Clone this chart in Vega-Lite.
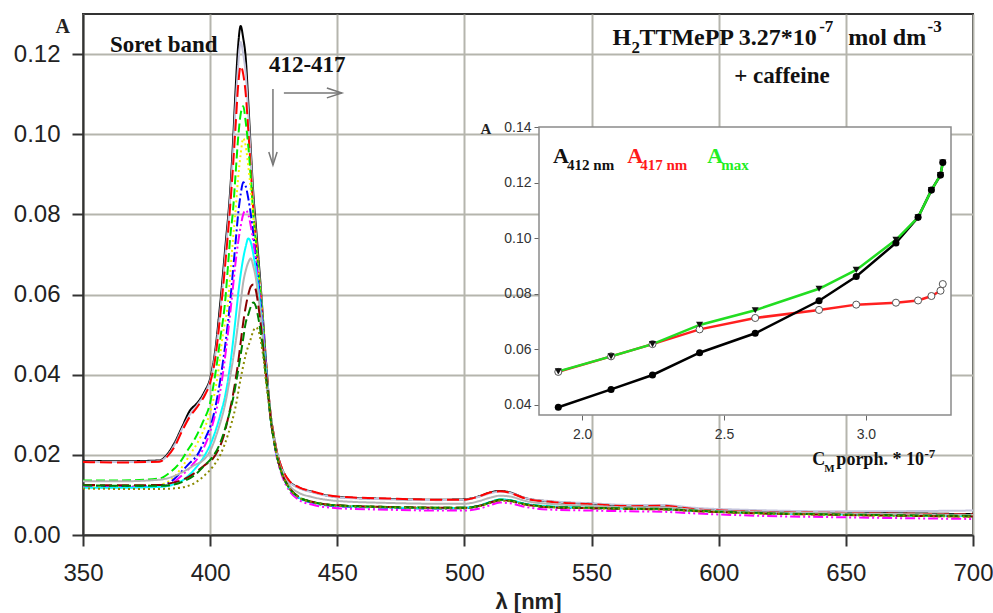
{
"$schema": "https://vega.github.io/schema/vega-lite/v6.json",
"width": 890, "height": 521,
"autosize": {"type": "none"},
"padding": {"left": 83, "top": 14, "right": 20, "bottom": 78},
"background": "white",
"config": {"view": {"stroke": "#333333", "strokeWidth": 2}, "font": "Liberation Sans"},
"datasets": {
"spectra": [
{"s":1,"x":350,"y":0.0185},{"s":1,"x":365,"y":0.0184},{"s":1,"x":380,"y":0.0186},{"s":1,"x":383,"y":0.020},{"s":1,"x":386,"y":0.023},{"s":1,"x":389,"y":0.027},{"s":1,"x":392,"y":0.031},{"s":1,"x":395,"y":0.033},{"s":1,"x":398,"y":0.036},{"s":1,"x":400,"y":0.039},{"s":1,"x":402,"y":0.046},{"s":1,"x":404,"y":0.058},{"s":1,"x":406,"y":0.072},{"s":1,"x":408,"y":0.087},{"s":1,"x":409,"y":0.098},{"s":1,"x":410,"y":0.111},{"s":1,"x":411,"y":0.122},{"s":1,"x":412,"y":0.127},{"s":1,"x":413,"y":0.124},{"s":1,"x":414,"y":0.119},{"s":1,"x":415,"y":0.108},{"s":1,"x":416,"y":0.096},{"s":1,"x":417,"y":0.085},{"s":1,"x":418,"y":0.077},{"s":1,"x":419,"y":0.069},{"s":1,"x":420,"y":0.061},{"s":1,"x":421,"y":0.052},{"s":1,"x":422,"y":0.043},{"s":1,"x":423,"y":0.035},{"s":1,"x":424,"y":0.029},{"s":1,"x":425,"y":0.025},{"s":1,"x":426,"y":0.0215},{"s":1,"x":428,"y":0.017},{"s":1,"x":431,"y":0.0135},{"s":1,"x":435,"y":0.0118},{"s":1,"x":440,"y":0.0108},{"s":1,"x":450,"y":0.0095},{"s":1,"x":470,"y":0.009},{"s":1,"x":490,"y":0.0088},{"s":1,"x":500,"y":0.0089},{"s":1,"x":506,"y":0.0097},{"s":1,"x":510,"y":0.0106},{"s":1,"x":514,"y":0.011},{"s":1,"x":518,"y":0.0106},{"s":1,"x":524,"y":0.0092},{"s":1,"x":535,"y":0.0083},{"s":1,"x":550,"y":0.0078},{"s":1,"x":565,"y":0.0073},{"s":1,"x":578,"y":0.0073},{"s":1,"x":590,"y":0.0066},{"s":1,"x":610,"y":0.006},{"s":1,"x":650,"y":0.0056},{"s":1,"x":700,"y":0.0052},
{"s":2,"x":350,"y":0.0183},{"s":2,"x":365,"y":0.0182},{"s":2,"x":380,"y":0.0184},{"s":2,"x":383,"y":0.0197},{"s":2,"x":386,"y":0.0225},{"s":2,"x":389,"y":0.0265},{"s":2,"x":392,"y":0.030},{"s":2,"x":395,"y":0.0325},{"s":2,"x":398,"y":0.0355},{"s":2,"x":400,"y":0.0385},{"s":2,"x":402,"y":0.045},{"s":2,"x":404,"y":0.056},{"s":2,"x":406,"y":0.070},{"s":2,"x":408,"y":0.085},{"s":2,"x":409,"y":0.095},{"s":2,"x":410,"y":0.107},{"s":2,"x":411,"y":0.117},{"s":2,"x":412,"y":0.123},{"s":2,"x":413,"y":0.120},{"s":2,"x":414,"y":0.115},{"s":2,"x":415,"y":0.105},{"s":2,"x":416,"y":0.094},{"s":2,"x":417,"y":0.083},{"s":2,"x":418,"y":0.075},{"s":2,"x":419,"y":0.067},{"s":2,"x":420,"y":0.060},{"s":2,"x":421,"y":0.051},{"s":2,"x":422,"y":0.043},{"s":2,"x":423,"y":0.035},{"s":2,"x":424,"y":0.029},{"s":2,"x":425,"y":0.025},{"s":2,"x":426,"y":0.0215},{"s":2,"x":428,"y":0.017},{"s":2,"x":431,"y":0.0134},{"s":2,"x":435,"y":0.0117},{"s":2,"x":440,"y":0.0107},{"s":2,"x":450,"y":0.0094},{"s":2,"x":470,"y":0.0089},{"s":2,"x":490,"y":0.0087},{"s":2,"x":500,"y":0.0088},{"s":2,"x":506,"y":0.0096},{"s":2,"x":510,"y":0.0104},{"s":2,"x":514,"y":0.0108},{"s":2,"x":518,"y":0.0105},{"s":2,"x":524,"y":0.0092},{"s":2,"x":535,"y":0.0084},{"s":2,"x":550,"y":0.0079},{"s":2,"x":565,"y":0.0075},{"s":2,"x":578,"y":0.0075},{"s":2,"x":590,"y":0.0068},{"s":2,"x":610,"y":0.0063},{"s":2,"x":650,"y":0.0059},{"s":2,"x":700,"y":0.0061},
{"s":3,"x":350,"y":0.0182},{"s":3,"x":365,"y":0.0181},{"s":3,"x":380,"y":0.0183},{"s":3,"x":383,"y":0.0195},{"s":3,"x":386,"y":0.022},{"s":3,"x":389,"y":0.026},{"s":3,"x":392,"y":0.0295},{"s":3,"x":395,"y":0.032},{"s":3,"x":398,"y":0.035},{"s":3,"x":400,"y":0.038},{"s":3,"x":402,"y":0.044},{"s":3,"x":404,"y":0.055},{"s":3,"x":406,"y":0.068},{"s":3,"x":408,"y":0.083},{"s":3,"x":409,"y":0.092},{"s":3,"x":410,"y":0.102},{"s":3,"x":411,"y":0.112},{"s":3,"x":412,"y":0.117},{"s":3,"x":413,"y":0.115},{"s":3,"x":414,"y":0.110},{"s":3,"x":415,"y":0.101},{"s":3,"x":416,"y":0.091},{"s":3,"x":417,"y":0.081},{"s":3,"x":418,"y":0.074},{"s":3,"x":419,"y":0.066},{"s":3,"x":420,"y":0.059},{"s":3,"x":421,"y":0.051},{"s":3,"x":422,"y":0.043},{"s":3,"x":423,"y":0.035},{"s":3,"x":424,"y":0.029},{"s":3,"x":425,"y":0.025},{"s":3,"x":426,"y":0.0215},{"s":3,"x":428,"y":0.017},{"s":3,"x":431,"y":0.0136},{"s":3,"x":435,"y":0.0119},{"s":3,"x":440,"y":0.0109},{"s":3,"x":450,"y":0.0096},{"s":3,"x":470,"y":0.0091},{"s":3,"x":490,"y":0.0088},{"s":3,"x":500,"y":0.0088},{"s":3,"x":506,"y":0.0097},{"s":3,"x":510,"y":0.0106},{"s":3,"x":514,"y":0.0109},{"s":3,"x":518,"y":0.0105},{"s":3,"x":524,"y":0.0091},{"s":3,"x":535,"y":0.0082},{"s":3,"x":550,"y":0.0077},{"s":3,"x":565,"y":0.0072},{"s":3,"x":578,"y":0.0073},{"s":3,"x":590,"y":0.0065},{"s":3,"x":610,"y":0.0059},{"s":3,"x":650,"y":0.0055},{"s":3,"x":700,"y":0.0051},
{"s":4,"x":350,"y":0.0136},{"s":4,"x":365,"y":0.0136},{"s":4,"x":380,"y":0.0141},{"s":4,"x":384,"y":0.0155},{"s":4,"x":388,"y":0.018},{"s":4,"x":391,"y":0.021},{"s":4,"x":394,"y":0.024},{"s":4,"x":397,"y":0.028},{"s":4,"x":400,"y":0.033},{"s":4,"x":402,"y":0.040},{"s":4,"x":404,"y":0.049},{"s":4,"x":406,"y":0.059},{"s":4,"x":407,"y":0.067},{"s":4,"x":408,"y":0.075},{"s":4,"x":409,"y":0.081},{"s":4,"x":410,"y":0.090},{"s":4,"x":411,"y":0.099},{"s":4,"x":412,"y":0.105},{"s":4,"x":413,"y":0.107},{"s":4,"x":414,"y":0.103},{"s":4,"x":415,"y":0.097},{"s":4,"x":416,"y":0.089},{"s":4,"x":417,"y":0.080},{"s":4,"x":418,"y":0.073},{"s":4,"x":419,"y":0.066},{"s":4,"x":420,"y":0.059},{"s":4,"x":421,"y":0.051},{"s":4,"x":422,"y":0.042},{"s":4,"x":423,"y":0.034},{"s":4,"x":424,"y":0.028},{"s":4,"x":425,"y":0.024},{"s":4,"x":426,"y":0.0205},{"s":4,"x":428,"y":0.0158},{"s":4,"x":431,"y":0.0119},{"s":4,"x":435,"y":0.0094},{"s":4,"x":440,"y":0.0083},{"s":4,"x":450,"y":0.0074},{"s":4,"x":470,"y":0.007},{"s":4,"x":490,"y":0.0068},{"s":4,"x":500,"y":0.0068},{"s":4,"x":506,"y":0.0073},{"s":4,"x":510,"y":0.0081},{"s":4,"x":514,"y":0.0088},{"s":4,"x":518,"y":0.0086},{"s":4,"x":524,"y":0.0077},{"s":4,"x":535,"y":0.007},{"s":4,"x":550,"y":0.0068},{"s":4,"x":565,"y":0.0066},{"s":4,"x":578,"y":0.0065},{"s":4,"x":590,"y":0.0061},{"s":4,"x":610,"y":0.0056},{"s":4,"x":650,"y":0.0051},{"s":4,"x":700,"y":0.0047},
{"s":5,"x":350,"y":0.0122},{"s":5,"x":365,"y":0.0121},{"s":5,"x":380,"y":0.0125},{"s":5,"x":385,"y":0.014},{"s":5,"x":389,"y":0.017},{"s":5,"x":392,"y":0.020},{"s":5,"x":395,"y":0.023},{"s":5,"x":398,"y":0.027},{"s":5,"x":401,"y":0.033},{"s":5,"x":403,"y":0.040},{"s":5,"x":405,"y":0.050},{"s":5,"x":407,"y":0.058},{"s":5,"x":408,"y":0.066},{"s":5,"x":409,"y":0.074},{"s":5,"x":410,"y":0.081},{"s":5,"x":411,"y":0.089},{"s":5,"x":412,"y":0.095},{"s":5,"x":413,"y":0.099},{"s":5,"x":414,"y":0.097},{"s":5,"x":415,"y":0.092},{"s":5,"x":416,"y":0.086},{"s":5,"x":417,"y":0.079},{"s":5,"x":418,"y":0.072},{"s":5,"x":419,"y":0.065},{"s":5,"x":420,"y":0.058},{"s":5,"x":421,"y":0.050},{"s":5,"x":422,"y":0.042},{"s":5,"x":423,"y":0.034},{"s":5,"x":424,"y":0.028},{"s":5,"x":425,"y":0.024},{"s":5,"x":426,"y":0.0205},{"s":5,"x":428,"y":0.0158},{"s":5,"x":431,"y":0.0118},{"s":5,"x":435,"y":0.0093},{"s":5,"x":440,"y":0.0082},{"s":5,"x":450,"y":0.0073},{"s":5,"x":470,"y":0.0069},{"s":5,"x":490,"y":0.0067},{"s":5,"x":500,"y":0.0067},{"s":5,"x":506,"y":0.0072},{"s":5,"x":510,"y":0.008},{"s":5,"x":514,"y":0.0087},{"s":5,"x":518,"y":0.0085},{"s":5,"x":524,"y":0.0076},{"s":5,"x":535,"y":0.0069},{"s":5,"x":550,"y":0.0067},{"s":5,"x":565,"y":0.0065},{"s":5,"x":578,"y":0.0064},{"s":5,"x":590,"y":0.006},{"s":5,"x":610,"y":0.0055},{"s":5,"x":650,"y":0.005},{"s":5,"x":700,"y":0.0046},
{"s":6,"x":350,"y":0.0121},{"s":6,"x":365,"y":0.012},{"s":6,"x":380,"y":0.0122},{"s":6,"x":385,"y":0.0135},{"s":6,"x":389,"y":0.016},{"s":6,"x":392,"y":0.018},{"s":6,"x":395,"y":0.020},{"s":6,"x":398,"y":0.024},{"s":6,"x":401,"y":0.029},{"s":6,"x":403,"y":0.035},{"s":6,"x":405,"y":0.043},{"s":6,"x":407,"y":0.053},{"s":6,"x":408,"y":0.059},{"s":6,"x":409,"y":0.066},{"s":6,"x":410,"y":0.073},{"s":6,"x":411,"y":0.080},{"s":6,"x":412,"y":0.085},{"s":6,"x":413,"y":0.088},{"s":6,"x":414,"y":0.087},{"s":6,"x":415,"y":0.084},{"s":6,"x":416,"y":0.080},{"s":6,"x":417,"y":0.075},{"s":6,"x":418,"y":0.069},{"s":6,"x":419,"y":0.063},{"s":6,"x":420,"y":0.057},{"s":6,"x":421,"y":0.050},{"s":6,"x":422,"y":0.042},{"s":6,"x":423,"y":0.034},{"s":6,"x":424,"y":0.028},{"s":6,"x":425,"y":0.024},{"s":6,"x":426,"y":0.0205},{"s":6,"x":428,"y":0.0158},{"s":6,"x":431,"y":0.0117},{"s":6,"x":435,"y":0.0092},{"s":6,"x":440,"y":0.0081},{"s":6,"x":450,"y":0.0072},{"s":6,"x":470,"y":0.0068},{"s":6,"x":490,"y":0.0066},{"s":6,"x":500,"y":0.0067},{"s":6,"x":506,"y":0.0073},{"s":6,"x":510,"y":0.0081},{"s":6,"x":514,"y":0.0088},{"s":6,"x":518,"y":0.0086},{"s":6,"x":524,"y":0.0077},{"s":6,"x":535,"y":0.0069},{"s":6,"x":550,"y":0.0067},{"s":6,"x":565,"y":0.0066},{"s":6,"x":578,"y":0.0065},{"s":6,"x":590,"y":0.0061},{"s":6,"x":610,"y":0.0057},{"s":6,"x":650,"y":0.0052},{"s":6,"x":700,"y":0.0049},
{"s":7,"x":350,"y":0.012},{"s":7,"x":365,"y":0.0119},{"s":7,"x":380,"y":0.0121},{"s":7,"x":385,"y":0.013},{"s":7,"x":390,"y":0.0155},{"s":7,"x":393,"y":0.0175},{"s":7,"x":396,"y":0.020},{"s":7,"x":399,"y":0.024},{"s":7,"x":402,"y":0.030},{"s":7,"x":404,"y":0.036},{"s":7,"x":406,"y":0.045},{"s":7,"x":408,"y":0.056},{"s":7,"x":409,"y":0.062},{"s":7,"x":410,"y":0.068},{"s":7,"x":411,"y":0.073},{"s":7,"x":412,"y":0.077},{"s":7,"x":413,"y":0.080},{"s":7,"x":414,"y":0.081},{"s":7,"x":415,"y":0.080},{"s":7,"x":416,"y":0.077},{"s":7,"x":417,"y":0.073},{"s":7,"x":418,"y":0.068},{"s":7,"x":419,"y":0.062},{"s":7,"x":420,"y":0.056},{"s":7,"x":421,"y":0.049},{"s":7,"x":422,"y":0.041},{"s":7,"x":423,"y":0.034},{"s":7,"x":424,"y":0.028},{"s":7,"x":425,"y":0.024},{"s":7,"x":426,"y":0.020},{"s":7,"x":428,"y":0.0153},{"s":7,"x":431,"y":0.0112},{"s":7,"x":435,"y":0.0087},{"s":7,"x":440,"y":0.0076},{"s":7,"x":450,"y":0.0067},{"s":7,"x":470,"y":0.0063},{"s":7,"x":490,"y":0.0061},{"s":7,"x":500,"y":0.0061},{"s":7,"x":506,"y":0.0066},{"s":7,"x":510,"y":0.0074},{"s":7,"x":514,"y":0.0081},{"s":7,"x":518,"y":0.0079},{"s":7,"x":524,"y":0.007},{"s":7,"x":535,"y":0.0063},{"s":7,"x":550,"y":0.0061},{"s":7,"x":565,"y":0.0059},{"s":7,"x":578,"y":0.0058},{"s":7,"x":590,"y":0.0054},{"s":7,"x":610,"y":0.0049},{"s":7,"x":650,"y":0.0044},{"s":7,"x":700,"y":0.004},
{"s":8,"x":350,"y":0.0118},{"s":8,"x":365,"y":0.0118},{"s":8,"x":380,"y":0.012},{"s":8,"x":385,"y":0.0125},{"s":8,"x":390,"y":0.014},{"s":8,"x":394,"y":0.0165},{"s":8,"x":398,"y":0.020},{"s":8,"x":401,"y":0.024},{"s":8,"x":404,"y":0.030},{"s":8,"x":406,"y":0.035},{"s":8,"x":408,"y":0.043},{"s":8,"x":410,"y":0.054},{"s":8,"x":411,"y":0.060},{"s":8,"x":412,"y":0.065},{"s":8,"x":413,"y":0.069},{"s":8,"x":414,"y":0.072},{"s":8,"x":415,"y":0.074},{"s":8,"x":416,"y":0.073},{"s":8,"x":417,"y":0.070},{"s":8,"x":418,"y":0.066},{"s":8,"x":419,"y":0.061},{"s":8,"x":420,"y":0.055},{"s":8,"x":421,"y":0.048},{"s":8,"x":422,"y":0.041},{"s":8,"x":423,"y":0.034},{"s":8,"x":424,"y":0.028},{"s":8,"x":425,"y":0.024},{"s":8,"x":426,"y":0.0205},{"s":8,"x":428,"y":0.0158},{"s":8,"x":431,"y":0.0118},{"s":8,"x":435,"y":0.0093},{"s":8,"x":440,"y":0.0082},{"s":8,"x":450,"y":0.0073},{"s":8,"x":470,"y":0.0069},{"s":8,"x":490,"y":0.0067},{"s":8,"x":500,"y":0.0068},{"s":8,"x":506,"y":0.0074},{"s":8,"x":510,"y":0.0082},{"s":8,"x":514,"y":0.0089},{"s":8,"x":518,"y":0.0087},{"s":8,"x":524,"y":0.0078},{"s":8,"x":535,"y":0.0071},{"s":8,"x":550,"y":0.0068},{"s":8,"x":565,"y":0.0066},{"s":8,"x":578,"y":0.0065},{"s":8,"x":590,"y":0.0061},{"s":8,"x":610,"y":0.0056},{"s":8,"x":650,"y":0.0051},{"s":8,"x":700,"y":0.0047},
{"s":9,"x":350,"y":0.0134},{"s":9,"x":365,"y":0.0134},{"s":9,"x":380,"y":0.0138},{"s":9,"x":385,"y":0.0145},{"s":9,"x":390,"y":0.016},{"s":9,"x":394,"y":0.0175},{"s":9,"x":397,"y":0.0185},{"s":9,"x":400,"y":0.021},{"s":9,"x":403,"y":0.026},{"s":9,"x":406,"y":0.033},{"s":9,"x":408,"y":0.040},{"s":9,"x":410,"y":0.048},{"s":9,"x":412,"y":0.058},{"s":9,"x":413,"y":0.063},{"s":9,"x":414,"y":0.066},{"s":9,"x":415,"y":0.068},{"s":9,"x":416,"y":0.069},{"s":9,"x":417,"y":0.067},{"s":9,"x":418,"y":0.064},{"s":9,"x":419,"y":0.059},{"s":9,"x":420,"y":0.054},{"s":9,"x":421,"y":0.047},{"s":9,"x":422,"y":0.040},{"s":9,"x":423,"y":0.0345},{"s":9,"x":424,"y":0.0285},{"s":9,"x":425,"y":0.0245},{"s":9,"x":426,"y":0.021},{"s":9,"x":428,"y":0.0163},{"s":9,"x":431,"y":0.0125},{"s":9,"x":435,"y":0.0105},{"s":9,"x":440,"y":0.0095},{"s":9,"x":450,"y":0.0085},{"s":9,"x":470,"y":0.008},{"s":9,"x":490,"y":0.0078},{"s":9,"x":500,"y":0.0078},{"s":9,"x":506,"y":0.0085},{"s":9,"x":510,"y":0.0093},{"s":9,"x":514,"y":0.0098},{"s":9,"x":518,"y":0.0096},{"s":9,"x":524,"y":0.0085},{"s":9,"x":535,"y":0.0077},{"s":9,"x":550,"y":0.0073},{"s":9,"x":565,"y":0.0069},{"s":9,"x":578,"y":0.0069},{"s":9,"x":590,"y":0.0063},{"s":9,"x":610,"y":0.0058},{"s":9,"x":650,"y":0.0054},{"s":9,"x":700,"y":0.005},
{"s":10,"x":350,"y":0.0125},{"s":10,"x":365,"y":0.0124},{"s":10,"x":380,"y":0.0125},{"s":10,"x":385,"y":0.013},{"s":10,"x":390,"y":0.014},{"s":10,"x":394,"y":0.0155},{"s":10,"x":398,"y":0.0175},{"s":10,"x":401,"y":0.019},{"s":10,"x":403,"y":0.021},{"s":10,"x":405,"y":0.024},{"s":10,"x":407,"y":0.029},{"s":10,"x":409,"y":0.035},{"s":10,"x":411,"y":0.043},{"s":10,"x":412,"y":0.048},{"s":10,"x":413,"y":0.053},{"s":10,"x":414,"y":0.057},{"s":10,"x":415,"y":0.060},{"s":10,"x":416,"y":0.062},{"s":10,"x":417,"y":0.0625},{"s":10,"x":418,"y":0.061},{"s":10,"x":419,"y":0.057},{"s":10,"x":420,"y":0.052},{"s":10,"x":421,"y":0.046},{"s":10,"x":422,"y":0.040},{"s":10,"x":423,"y":0.034},{"s":10,"x":424,"y":0.028},{"s":10,"x":425,"y":0.024},{"s":10,"x":426,"y":0.0205},{"s":10,"x":428,"y":0.0158},{"s":10,"x":431,"y":0.0119},{"s":10,"x":435,"y":0.0094},{"s":10,"x":440,"y":0.0083},{"s":10,"x":450,"y":0.0074},{"s":10,"x":470,"y":0.007},{"s":10,"x":490,"y":0.0068},{"s":10,"x":500,"y":0.0068},{"s":10,"x":506,"y":0.0073},{"s":10,"x":510,"y":0.0081},{"s":10,"x":514,"y":0.0087},{"s":10,"x":518,"y":0.0085},{"s":10,"x":524,"y":0.0076},{"s":10,"x":535,"y":0.0069},{"s":10,"x":550,"y":0.0067},{"s":10,"x":565,"y":0.0065},{"s":10,"x":578,"y":0.0064},{"s":10,"x":590,"y":0.006},{"s":10,"x":610,"y":0.0055},{"s":10,"x":650,"y":0.005},{"s":10,"x":700,"y":0.0046},
{"s":11,"x":350,"y":0.0124},{"s":11,"x":365,"y":0.0123},{"s":11,"x":380,"y":0.0123},{"s":11,"x":385,"y":0.0125},{"s":11,"x":390,"y":0.0135},{"s":11,"x":394,"y":0.015},{"s":11,"x":398,"y":0.0175},{"s":11,"x":401,"y":0.0195},{"s":11,"x":404,"y":0.023},{"s":11,"x":407,"y":0.029},{"s":11,"x":409,"y":0.034},{"s":11,"x":411,"y":0.041},{"s":11,"x":413,"y":0.049},{"s":11,"x":414,"y":0.053},{"s":11,"x":415,"y":0.055},{"s":11,"x":416,"y":0.057},{"s":11,"x":417,"y":0.058},{"s":11,"x":418,"y":0.057},{"s":11,"x":419,"y":0.054},{"s":11,"x":420,"y":0.050},{"s":11,"x":421,"y":0.045},{"s":11,"x":422,"y":0.039},{"s":11,"x":423,"y":0.034},{"s":11,"x":424,"y":0.028},{"s":11,"x":425,"y":0.024},{"s":11,"x":426,"y":0.0205},{"s":11,"x":428,"y":0.0158},{"s":11,"x":431,"y":0.0118},{"s":11,"x":435,"y":0.0094},{"s":11,"x":440,"y":0.0083},{"s":11,"x":450,"y":0.0074},{"s":11,"x":470,"y":0.007},{"s":11,"x":490,"y":0.0068},{"s":11,"x":500,"y":0.0068},{"s":11,"x":506,"y":0.0073},{"s":11,"x":510,"y":0.0081},{"s":11,"x":514,"y":0.0088},{"s":11,"x":518,"y":0.0086},{"s":11,"x":524,"y":0.0077},{"s":11,"x":535,"y":0.007},{"s":11,"x":550,"y":0.0068},{"s":11,"x":565,"y":0.0066},{"s":11,"x":578,"y":0.0065},{"s":11,"x":590,"y":0.0061},{"s":11,"x":610,"y":0.0056},{"s":11,"x":650,"y":0.0051},{"s":11,"x":700,"y":0.0048},
{"s":12,"x":350,"y":0.0116},{"s":12,"x":365,"y":0.0115},{"s":12,"x":380,"y":0.0115},{"s":12,"x":385,"y":0.0116},{"s":12,"x":390,"y":0.012},{"s":12,"x":394,"y":0.013},{"s":12,"x":398,"y":0.015},{"s":12,"x":401,"y":0.017},{"s":12,"x":404,"y":0.020},{"s":12,"x":407,"y":0.025},{"s":12,"x":410,"y":0.032},{"s":12,"x":412,"y":0.039},{"s":12,"x":414,"y":0.045},{"s":12,"x":416,"y":0.049},{"s":12,"x":417,"y":0.051},{"s":12,"x":418,"y":0.0518},{"s":12,"x":419,"y":0.051},{"s":12,"x":420,"y":0.048},{"s":12,"x":421,"y":0.044},{"s":12,"x":422,"y":0.038},{"s":12,"x":423,"y":0.033},{"s":12,"x":424,"y":0.028},{"s":12,"x":425,"y":0.024},{"s":12,"x":426,"y":0.0205},{"s":12,"x":428,"y":0.0158},{"s":12,"x":431,"y":0.0118},{"s":12,"x":435,"y":0.0093},{"s":12,"x":440,"y":0.0082},{"s":12,"x":450,"y":0.0073},{"s":12,"x":470,"y":0.0069},{"s":12,"x":490,"y":0.0067},{"s":12,"x":500,"y":0.0067},{"s":12,"x":506,"y":0.0072},{"s":12,"x":510,"y":0.008},{"s":12,"x":514,"y":0.0086},{"s":12,"x":518,"y":0.0084},{"s":12,"x":524,"y":0.0076},{"s":12,"x":535,"y":0.0069},{"s":12,"x":550,"y":0.0067},{"s":12,"x":565,"y":0.0065},{"s":12,"x":578,"y":0.0064},{"s":12,"x":590,"y":0.006},{"s":12,"x":610,"y":0.0055},{"s":12,"x":650,"y":0.005},{"s":12,"x":700,"y":0.0046}
],
"inset": [
{"s":"A412","c":1.916,"v":0.0392},{"s":"A412","c":2.102,"v":0.0456},{"s":"A412","c":2.248,"v":0.0508},{"s":"A412","c":2.414,"v":0.0588},{"s":"A412","c":2.61,"v":0.0658},{"s":"A412","c":2.835,"v":0.0775},{"s":"A412","c":2.966,"v":0.0862},{"s":"A412","c":3.106,"v":0.0983},{"s":"A412","c":3.184,"v":0.1075},{"s":"A412","c":3.231,"v":0.1173},{"s":"A412","c":3.263,"v":0.1227},{"s":"A412","c":3.271,"v":0.1272},
{"s":"A417","c":1.916,"v":0.0519},{"s":"A417","c":2.102,"v":0.0575},{"s":"A417","c":2.248,"v":0.0619},{"s":"A417","c":2.414,"v":0.0672},{"s":"A417","c":2.61,"v":0.0713},{"s":"A417","c":2.835,"v":0.0742},{"s":"A417","c":2.966,"v":0.0761},{"s":"A417","c":3.106,"v":0.0768},{"s":"A417","c":3.184,"v":0.0776},{"s":"A417","c":3.231,"v":0.0792},{"s":"A417","c":3.263,"v":0.0811},{"s":"A417","c":3.271,"v":0.0835},
{"s":"Amax","c":1.916,"v":0.0521},{"s":"Amax","c":2.102,"v":0.0575},{"s":"Amax","c":2.248,"v":0.0619},{"s":"Amax","c":2.414,"v":0.0688},{"s":"Amax","c":2.61,"v":0.0741},{"s":"Amax","c":2.835,"v":0.0818},{"s":"Amax","c":2.966,"v":0.0886},{"s":"Amax","c":3.106,"v":0.0994},{"s":"Amax","c":3.184,"v":0.1075},{"s":"Amax","c":3.231,"v":0.1173},{"s":"Amax","c":3.263,"v":0.1227},{"s":"Amax","c":3.271,"v":0.1272}
]
},
"layer": [
{"data": {"name": "spectra"},
 "mark": {"type": "line", "strokeWidth": 2, "interpolate": "monotone"},
 "encoding": {
  "x": {"field": "x", "type": "quantitative", "scale": {"domain": [350, 700], "nice": false, "zero": false},
   "axis": {"values": [350,400,450,500,550,600,650,700], "grid": true, "gridColor": "#b5b5ad", "gridWidth": 2, "domainColor": "#333333", "domainWidth": 2, "tickColor": "#333333", "tickWidth": 2, "tickSize": 11, "labelFont": "Liberation Sans", "labelFontSize": 24, "labelColor": "#222222", "labelPadding": 15, "labelFlush": false, "title": "λ [nm]", "titleFont": "Liberation Sans", "titleFontSize": 22, "titleFontWeight": "bold", "titleColor": "#222222", "titleY": 73, "titleBaseline": "alphabetic"}},
  "y": {"field": "y", "type": "quantitative", "scale": {"domain": [0, 0.13], "nice": false},
   "axis": {"values": [0,0.02,0.04,0.06,0.08,0.1,0.12], "format": ".2f", "grid": true, "gridColor": "#b5b5ad", "gridWidth": 2, "domainColor": "#333333", "domainWidth": 2, "tickColor": "#333333", "tickWidth": 2, "tickSize": 11, "labelFont": "Liberation Sans", "labelFontSize": 24, "labelColor": "#222222", "labelPadding": 12, "title": "A", "titleFont": "Liberation Serif", "titleFontSize": 20, "titleFontWeight": "bold", "titleColor": "#222222", "titleAngle": 0, "titleAlign": "left", "titleBaseline": "alphabetic", "titleX": -28, "titleY": 18}},
  "color": {"field": "s", "type": "nominal", "legend": null, "scale": {"domain": [1,2,3,4,5,6,7,8,9,10,11,12], "range": ["#000000","#c4c4dc","#ff0000","#00ee00","#f5f500","#0000ff","#ff00ff","#00ffff","#b4b4b4","#880000","#008000","#8a8a00"]}},
  "strokeDash": {"field": "s", "type": "nominal", "legend": null, "scale": {"domain": [1,2,3,4,5,6,7,8,9,10,11,12], "range": [[1,0],[1,0],[12,5],[9,4],[2,3],[10,3,2,3],[10,3,2,3,2,3],[1,0],[1,0],[12,5],[9,4],[2,3]]}}
 }},
{"data": {"values": [{}]},
 "mark": {"type": "rule", "color": "#777777", "strokeWidth": 1.5},
 "encoding": {"x": {"datum": 424.7, "scale": {"domain": [350, 700], "nice": false, "zero": false}, "axis": null}, "y": {"datum": 0.1113, "scale": {"domain": [0, 0.13], "nice": false}, "axis": null}, "y2": {"datum": 0.0923}}},
{"data": {"values": [{}]},
 "mark": {"type": "rule", "color": "#777777", "strokeWidth": 1.5},
 "encoding": {"x": {"datum": 429.0, "scale": {"domain": [350, 700], "nice": false, "zero": false}, "axis": null}, "x2": {"datum": 451.8}, "y": {"datum": 0.1103, "scale": {"domain": [0, 0.13], "nice": false}, "axis": null}}},
{"data": {"values": [{}]},
 "mark": {"type": "point", "shape": "M -0.32 -1 L 0 0 L 0.32 -1", "filled": false, "stroke": "#777777", "strokeWidth": 1.5, "size": 676, "opacity": 1},
 "encoding": {"x": {"datum": 424.7, "scale": {"domain": [350, 700], "nice": false, "zero": false}, "axis": null}, "y": {"datum": 0.0923, "scale": {"domain": [0, 0.13], "nice": false}, "axis": null}}},
{"data": {"values": [{}]},
 "mark": {"type": "point", "shape": "M -1 -0.33 L 0 0 L -1 0.33", "filled": false, "stroke": "#777777", "strokeWidth": 1.5, "size": 900, "opacity": 1},
 "encoding": {"x": {"datum": 451.8, "scale": {"domain": [350, 700], "nice": false, "zero": false}, "axis": null}, "y": {"datum": 0.1103, "scale": {"domain": [0, 0.13], "nice": false}, "axis": null}}},
{"data": {"values": [
  {"t": "Soret band", "x": 360.6, "y": 0.1205},
  {"t": "412-417", "x": 423.1, "y": 0.1155},
  {"t": "+ caffeine", "x": 606.1, "y": 0.1128}
 ]},
 "mark": {"type": "text", "font": "Liberation Serif", "fontWeight": "bold", "fontSize": 23, "align": "left", "baseline": "alphabetic", "color": "#111111"},
 "encoding": {"x": {"field": "x", "type": "quantitative", "scale": {"domain": [350, 700], "nice": false, "zero": false}, "axis": null}, "y": {"field": "y", "type": "quantitative", "scale": {"domain": [0, 0.13], "nice": false}, "axis": null}, "text": {"field": "t"}}},
{"data": {"values": [
  {"t": "H", "x": 558.19, "y": 0.1222},
  {"t": "TTMePP 3.27*10", "x": 568.8, "y": 0.1222},
  {"t": "mol dm", "x": 650.9, "y": 0.1222}
 ]},
 "mark": {"type": "text", "font": "Liberation Serif", "fontWeight": "bold", "fontSize": 24, "align": "left", "baseline": "alphabetic", "color": "#111111"},
 "encoding": {"x": {"field": "x", "type": "quantitative", "scale": {"domain": [350, 700], "nice": false, "zero": false}, "axis": null}, "y": {"field": "y", "type": "quantitative", "scale": {"domain": [0, 0.13], "nice": false}, "axis": null}, "text": {"field": "t"}}},
{"data": {"values": [
  {"t": "2", "x": 565.66, "y": 0.1203},
  {"t": "-7", "x": 639.5, "y": 0.1254},
  {"t": "-3", "x": 682.1, "y": 0.1254}
 ]},
 "mark": {"type": "text", "font": "Liberation Serif", "fontWeight": "bold", "fontSize": 17, "align": "left", "baseline": "alphabetic", "color": "#111111"},
 "encoding": {"x": {"field": "x", "type": "quantitative", "scale": {"domain": [350, 700], "nice": false, "zero": false}, "axis": null}, "y": {"field": "y", "type": "quantitative", "scale": {"domain": [0, 0.13], "nice": false}, "axis": null}, "text": {"field": "t"}}},
{"data": {"values": [{}]},
 "mark": {"type": "rect", "fill": "white", "stroke": "#8a8a8a", "strokeWidth": 1.5},
 "encoding": {
  "x": {"datum": 1.848, "type": "quantitative", "scale": {"domain": [1.848, 3.30], "range": [456, 868], "nice": false, "zero": false},
   "axis": {"orient": "bottom", "offset": -120, "values": [2.0, 2.5, 3.0], "format": ".1f", "domain": false, "grid": false, "tickSize": 5, "tickColor": "#666666", "tickWidth": 1, "labelFont": "Liberation Sans", "labelFontSize": 14, "labelColor": "#333333", "labelPadding": 7, "labelFlush": false, "title": null}},
  "x2": {"datum": 3.30},
  "y": {"datum": 0.0364, "type": "quantitative", "scale": {"domain": [0.0364, 0.14], "range": [401, 113], "nice": false, "zero": false},
   "axis": {"orient": "left", "offset": -456, "values": [0.04,0.06,0.08,0.1,0.12,0.14], "format": ".2f", "domain": false, "grid": false, "tickSize": 5, "tickColor": "#666666", "tickWidth": 1, "labelFont": "Liberation Sans", "labelFontSize": 14, "labelColor": "#333333", "labelPadding": 3, "title": "A", "titleFont": "Liberation Serif", "titleFontSize": 15, "titleFontWeight": "bold", "titleColor": "#222222", "titleAngle": 0, "titleAlign": "left", "titleBaseline": "alphabetic", "titleX": -59, "titleY": 119}},
  "y2": {"datum": 0.14}
 }},
{"data": {"name": "inset"}, "transform": [{"filter": "datum.s === 'A417'"}],
 "mark": {"type": "line", "color": "#ff2020", "strokeWidth": 2.5},
 "encoding": {"x": {"field": "c", "type": "quantitative", "scale": {"domain": [1.848, 3.30], "range": [456, 868], "nice": false, "zero": false}, "axis": null}, "y": {"field": "v", "type": "quantitative", "scale": {"domain": [0.0364, 0.14], "range": [401, 113], "nice": false, "zero": false}, "axis": null}}},
{"data": {"name": "inset"}, "transform": [{"filter": "datum.s === 'A412'"}],
 "mark": {"type": "line", "color": "#000000", "strokeWidth": 2.5},
 "encoding": {"x": {"field": "c", "type": "quantitative", "scale": {"domain": [1.848, 3.30], "range": [456, 868], "nice": false, "zero": false}, "axis": null}, "y": {"field": "v", "type": "quantitative", "scale": {"domain": [0.0364, 0.14], "range": [401, 113], "nice": false, "zero": false}, "axis": null}}},
{"data": {"name": "inset"}, "transform": [{"filter": "datum.s === 'Amax'"}],
 "mark": {"type": "line", "color": "#22dd22", "strokeWidth": 2.5},
 "encoding": {"x": {"field": "c", "type": "quantitative", "scale": {"domain": [1.848, 3.30], "range": [456, 868], "nice": false, "zero": false}, "axis": null}, "y": {"field": "v", "type": "quantitative", "scale": {"domain": [0.0364, 0.14], "range": [401, 113], "nice": false, "zero": false}, "axis": null}}},
{"data": {"name": "inset"}, "transform": [{"filter": "datum.s === 'A417'"}],
 "mark": {"type": "point", "shape": "circle", "filled": true, "fill": "white", "stroke": "#555555", "strokeWidth": 1, "size": 50, "opacity": 1},
 "encoding": {"x": {"field": "c", "type": "quantitative", "scale": {"domain": [1.848, 3.30], "range": [456, 868], "nice": false, "zero": false}, "axis": null}, "y": {"field": "v", "type": "quantitative", "scale": {"domain": [0.0364, 0.14], "range": [401, 113], "nice": false, "zero": false}, "axis": null}}},
{"data": {"name": "inset"}, "transform": [{"filter": "datum.s === 'Amax'"}],
 "mark": {"type": "point", "shape": "triangle-down", "filled": true, "color": "#111111", "size": 50, "opacity": 1},
 "encoding": {"x": {"field": "c", "type": "quantitative", "scale": {"domain": [1.848, 3.30], "range": [456, 868], "nice": false, "zero": false}, "axis": null}, "y": {"field": "v", "type": "quantitative", "scale": {"domain": [0.0364, 0.14], "range": [401, 113], "nice": false, "zero": false}, "axis": null}}},
{"data": {"name": "inset"}, "transform": [{"filter": "datum.s === 'A412'"}],
 "mark": {"type": "point", "shape": "circle", "filled": true, "color": "#000000", "size": 50, "opacity": 1},
 "encoding": {"x": {"field": "c", "type": "quantitative", "scale": {"domain": [1.848, 3.30], "range": [456, 868], "nice": false, "zero": false}, "axis": null}, "y": {"field": "v", "type": "quantitative", "scale": {"domain": [0.0364, 0.14], "range": [401, 113], "nice": false, "zero": false}, "axis": null}}},
{"data": {"values": [
  {"s": "A412", "t": "A", "c": 1.8977, "v": 0.12705},
  {"s": "A417", "t": "A", "c": 2.1587, "v": 0.12705},
  {"s": "Amax", "t": "A", "c": 2.4409, "v": 0.12705}
 ]},
 "mark": {"type": "text", "font": "Liberation Serif", "fontWeight": "bold", "fontSize": 22, "align": "left", "baseline": "alphabetic"},
 "encoding": {"x": {"field": "c", "type": "quantitative", "scale": {"domain": [1.848, 3.30], "range": [456, 868], "nice": false, "zero": false}, "axis": null}, "y": {"field": "v", "type": "quantitative", "scale": {"domain": [0.0364, 0.14], "range": [401, 113], "nice": false, "zero": false}, "axis": null}, "text": {"field": "t"},
  "color": {"field": "s", "type": "nominal", "legend": null, "scale": {"domain": ["A412", "A417", "Amax"], "range": ["#111111", "#ff1a1a", "#22ee22"]}}}},
{"data": {"values": [
  {"s": "A412", "t": "412 nm", "c": 1.947, "v": 0.12453},
  {"s": "A417", "t": "417 nm", "c": 2.2046, "v": 0.12453},
  {"s": "Amax", "t": "max", "c": 2.4903, "v": 0.12453}
 ]},
 "mark": {"type": "text", "font": "Liberation Serif", "fontWeight": "bold", "fontSize": 15, "align": "left", "baseline": "alphabetic"},
 "encoding": {"x": {"field": "c", "type": "quantitative", "scale": {"domain": [1.848, 3.30], "range": [456, 868], "nice": false, "zero": false}, "axis": null}, "y": {"field": "v", "type": "quantitative", "scale": {"domain": [0.0364, 0.14], "range": [401, 113], "nice": false, "zero": false}, "axis": null}, "text": {"field": "t"},
  "color": {"field": "s", "type": "nominal", "legend": null, "scale": {"domain": ["A412", "A417", "Amax"], "range": ["#111111", "#ff1a1a", "#22ee22"]}}}},
{"data": {"values": [
  {"t": "C", "c": 2.8113, "v": 0.01842},
  {"t": "porph. * 10", "c": 2.896, "v": 0.01842}
 ]},
 "mark": {"type": "text", "font": "Liberation Serif", "fontWeight": "bold", "fontSize": 18, "align": "left", "baseline": "alphabetic", "color": "#111111"},
 "encoding": {"x": {"field": "c", "type": "quantitative", "scale": {"domain": [1.848, 3.30], "range": [456, 868], "nice": false, "zero": false}, "axis": null}, "y": {"field": "v", "type": "quantitative", "scale": {"domain": [0.0364, 0.14], "range": [401, 113], "nice": false, "zero": false}, "axis": null}, "text": {"field": "t"}}},
{"data": {"values": [
  {"t": "M", "c": 2.8536, "v": 0.0159}
 ]},
 "mark": {"type": "text", "font": "Liberation Serif", "fontWeight": "bold", "fontSize": 11, "align": "left", "baseline": "alphabetic", "color": "#111111"},
 "encoding": {"x": {"field": "c", "type": "quantitative", "scale": {"domain": [1.848, 3.30], "range": [456, 868], "nice": false, "zero": false}, "axis": null}, "y": {"field": "v", "type": "quantitative", "scale": {"domain": [0.0364, 0.14], "range": [401, 113], "nice": false, "zero": false}, "axis": null}, "text": {"field": "t"}}},
{"data": {"values": [
  {"t": "-7", "c": 3.2063, "v": 0.0209}
 ]},
 "mark": {"type": "text", "font": "Liberation Serif", "fontWeight": "bold", "fontSize": 13, "align": "left", "baseline": "alphabetic", "color": "#111111"},
 "encoding": {"x": {"field": "c", "type": "quantitative", "scale": {"domain": [1.848, 3.30], "range": [456, 868], "nice": false, "zero": false}, "axis": null}, "y": {"field": "v", "type": "quantitative", "scale": {"domain": [0.0364, 0.14], "range": [401, 113], "nice": false, "zero": false}, "axis": null}, "text": {"field": "t"}}}
],
"resolve": {"scale": {"x": "independent", "y": "independent", "color": "independent", "strokeDash": "independent"}, "axis": {"x": "independent", "y": "independent"}}
}
